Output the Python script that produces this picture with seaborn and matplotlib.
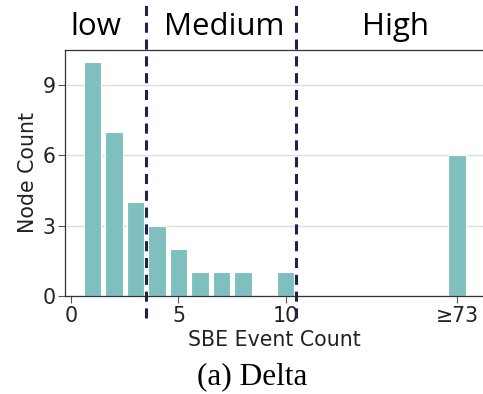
import numpy as np
import pandas as pd
import matplotlib
matplotlib.use("Agg")
import matplotlib.pyplot as plt
import seaborn as sns

# SBE event counts per node (last bin collects all nodes with >= 73 events)
event_counts = [1, 2, 3, 4, 5, 6, 7, 8, 10, 18]
node_counts = [10, 7, 4, 3, 2, 1, 1, 1, 1, 6]
tick_positions = [0, 5, 10, 18]
tick_labels = ["0", "5", "10", "≥73"]
y_ticks = [0, 3, 6, 9]
boundaries = [3.5, 10.5]
group_names = ["low", "Medium", "High"]
group_centers = [1.16, 7.12, 15.1]

sns.set_theme(style="whitegrid")
plt.rcParams["font.family"] = ["DejaVu Sans"]

df = pd.DataFrame({"events": event_counts, "nodes": node_counts})

fig = plt.figure(figsize=(4.83, 3.94), dpi=100)
ax = fig.add_axes([0.135, 0.249, 0.865, 0.624])

ax.bar(df["events"], df["nodes"], width=0.82, color="#80bfbf",
       edgecolor="white", linewidth=0.8, zorder=2)

ax.set_xlim(-0.28, 19.2)
ax.set_ylim(0, 10.5)
ax.set_xticks(tick_positions)
ax.set_xticklabels(tick_labels)
ax.set_yticks(y_ticks)
ax.grid(axis="x", visible=False)
ax.grid(axis="y", color="#dddddd", linewidth=1.0, zorder=0)

for side in ["left", "bottom", "top"]:
    ax.spines[side].set_visible(True)
    ax.spines[side].set_color("#333333")
    ax.spines[side].set_linewidth(0.9)
ax.spines["right"].set_visible(False)

ax.tick_params(axis="both", which="both", length=5, width=0.8,
               color="#555555", labelsize=14.8, labelcolor="#222222",
               bottom=True, left=True, pad=2)
ax.set_xlabel("SBE Event Count", fontsize=14.8, color="#222222", labelpad=3)
ax.set_ylabel("Node Count", fontsize=14.8, color="#222222", labelpad=3)

for b in boundaries:
    ax.axvline(b, ymin=-0.09, ymax=1.2, color="#1c2547", linestyle=(0, (3.3, 2.2)),
               linewidth=2.2, clip_on=False, zorder=3)

for name, cx in zip(group_names, group_centers):
    ax.text(cx, 1.061, name, transform=ax.get_xaxis_transform(),
            ha="center", va="baseline", fontsize=22.5, family="Open Sans",
            color="black")

fig.text(0.522, 0.025, "(a) Delta", ha="center", va="baseline",
         fontsize=22.5, family="Liberation Serif", color="black")

fig.savefig("out.png", dpi=100)
